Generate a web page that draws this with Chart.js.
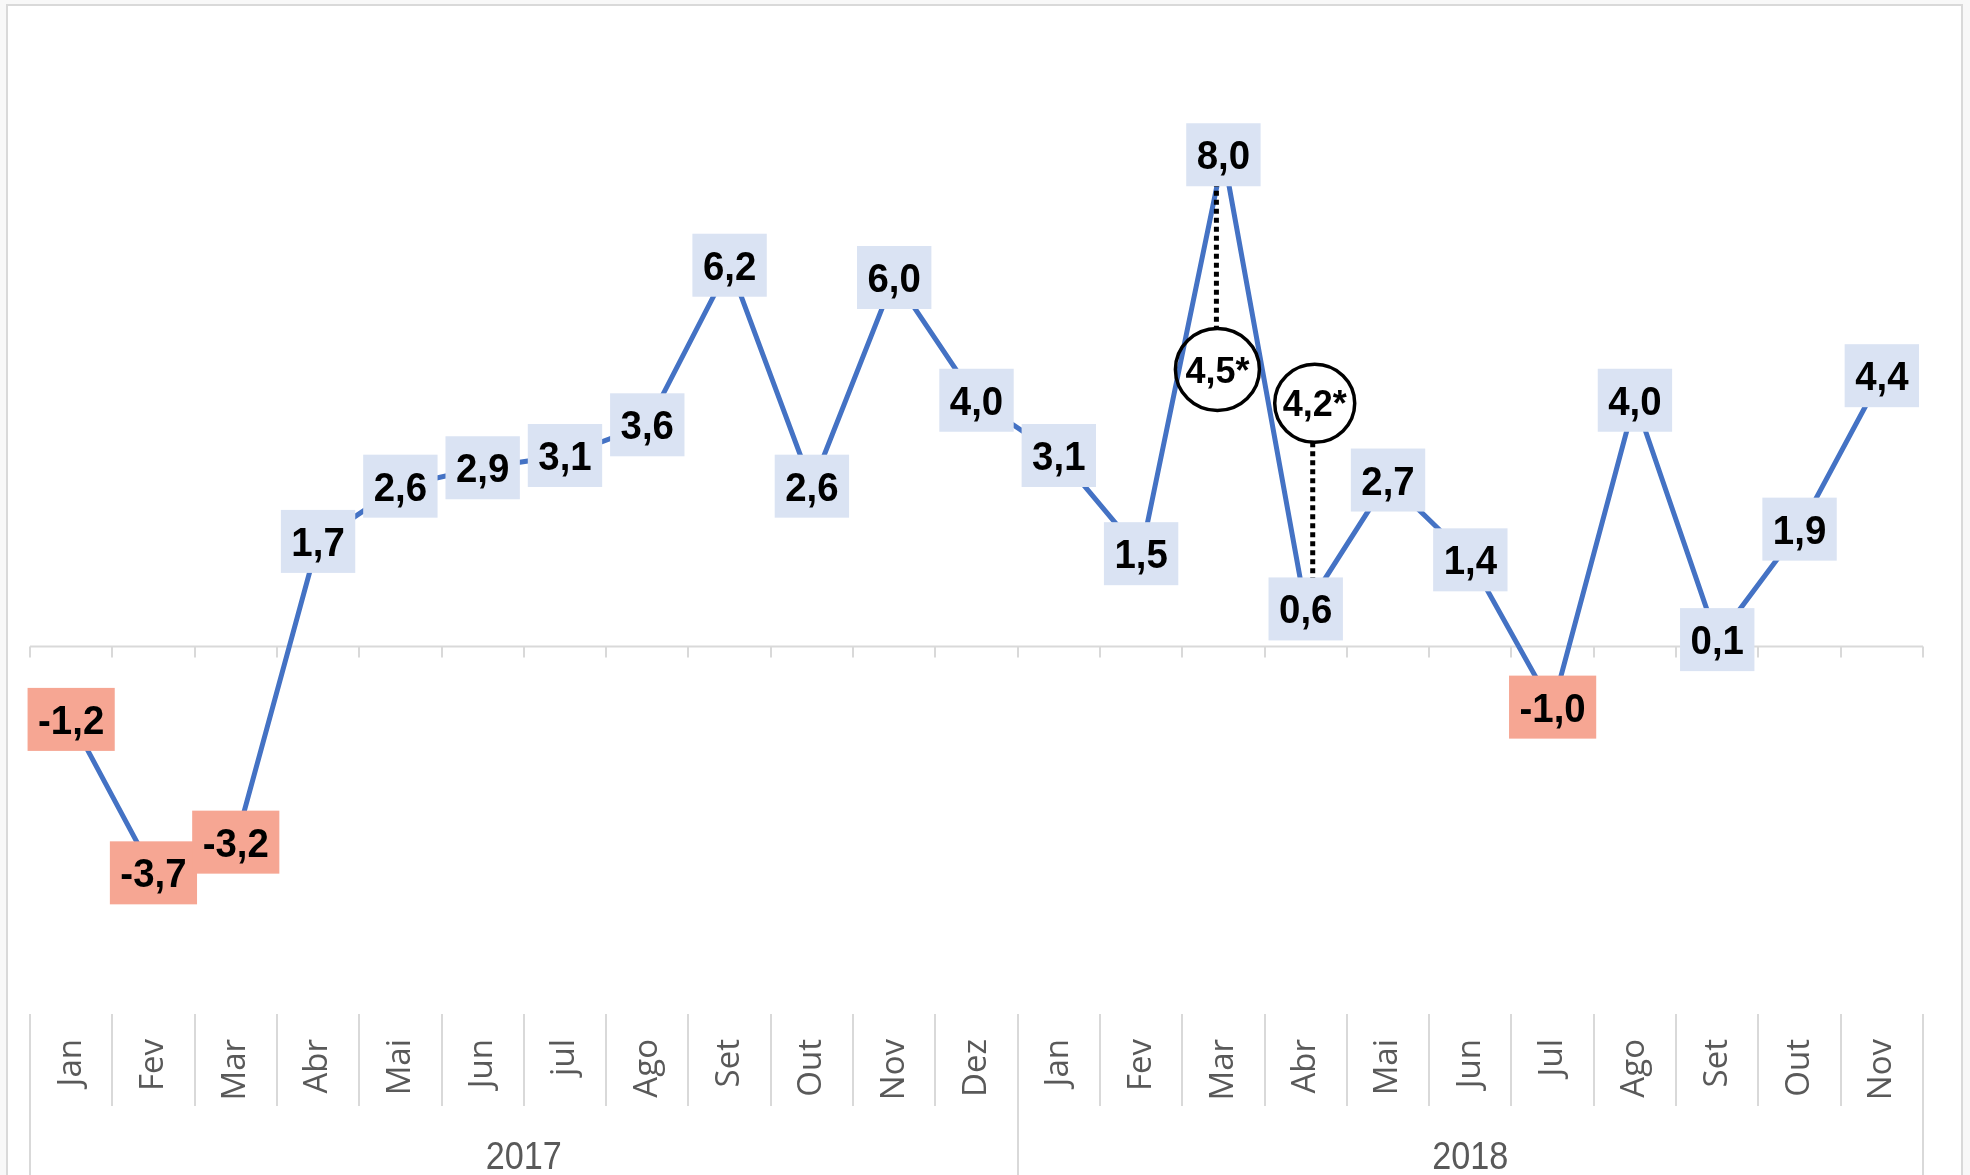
<!DOCTYPE html>
<html>
<head>
<meta charset="utf-8">
<script src="https://cdn.jsdelivr.net/npm/chart.js@4"></script>
<style>
  html, body { margin: 0; padding: 0; background: #f8f8f8; }
  #wrap { width: 1970px; height: 1175px; position: relative; }
</style>
</head>
<body>
<div id="wrap"><canvas id="c"></canvas></div>
<script>
// ---- data ----
const months2017 = ['Jan','Fev','Mar','Abr','Mai','Jun','jul','Ago','Set','Out','Nov','Dez'];
const months2018 = ['Jan','Fev','Mar','Abr','Mai','Jun','Jul','Ago','Set','Out','Nov'];
const years = ['2017', '2018'];
const values2017 = [-1.2, -3.7, -3.2, 1.7, 2.6, 2.9, 3.1, 3.6, 6.2, 2.6, 6.0, 4.0];
const values2018 = [3.1, 1.5, 8.0, 0.6, 2.7, 1.4, -1.0, 4.0, 0.1, 1.9, 4.4];
// annotations (circled values) : category index, text, vertical level of circle centre
const annotIndex = [14, 15];
const annotText = ['4,5*', '4,2*'];
const annotLevel = [4.5, 3.95];

const labels = months2017.concat(months2018);
const values = values2017.concat(values2018);
const yearCounts = [months2017.length, months2018.length];

const fmt = v => v.toFixed(1).replace('.', ',');

const decor = {
  id: 'decor',
  beforeDraw(chart) {
    const { ctx, width, height } = chart;
    const x = chart.scales.x, y = chart.scales.y;
    ctx.save();
    ctx.fillStyle = '#f8f8f8';
    ctx.fillRect(0, 0, width, height);
    ctx.fillStyle = '#ffffff';
    ctx.fillRect(7, 5, 1955, height);
    ctx.strokeStyle = '#d9d9d9';
    ctx.lineWidth = 2;
    ctx.strokeRect(7, 5, 1955, height + 20);
    // zero axis with tick marks
    const y0 = Math.round(y.getPixelForValue(0)) + 0.5;
    const n = labels.length;
    const cw = (x.right - x.left) / n;
    ctx.beginPath();
    ctx.moveTo(x.left, y0);
    ctx.lineTo(x.right, y0);
    for (let i = 0; i <= n; i++) {
      const xb = Math.round(x.left + i * cw);
      ctx.moveTo(xb, y0);
      ctx.lineTo(xb, y0 + 11);
    }
    ctx.stroke();
    ctx.restore();
  },
  afterDatasetsDraw(chart) {
    const { ctx } = chart;
    const x = chart.scales.x, y = chart.scales.y;
    ctx.save();
    // annotations
    annotIndex.forEach((idx, k) => {
      const px = x.getPixelForValue(idx) + (k === 0 ? -7 : 7);
      const cx = x.getPixelForValue(idx) + (k === 0 ? -6 : 9);
      const cy = y.getPixelForValue(annotLevel[k]);
      const py = y.getPixelForValue(values[idx]);
      const r = k === 0 ? 41 : 39;
      ctx.setLineDash([5, 4]);
      ctx.lineWidth = 5;
      ctx.strokeStyle = '#000';
      ctx.beginPath();
      if (py < cy) { ctx.moveTo(px, py); ctx.lineTo(px, cy - r); }
      else { ctx.moveTo(px, cy + r); ctx.lineTo(px, py); }
      ctx.stroke();
      ctx.setLineDash([]);
      ctx.beginPath();
      ctx.ellipse(cx, cy, r + 1, r, 0, 0, Math.PI * 2);
      ctx.lineWidth = 3.5;
      ctx.stroke();
      ctx.fillStyle = '#000';
      ctx.font = 'bold 36px "Liberation Sans", Arial, sans-serif';
      ctx.textAlign = 'center';
      ctx.textBaseline = 'alphabetic';
      ctx.fillText(annotText[k], cx, cy + 13);
    });
    // data labels
    const meta = chart.getDatasetMeta(0);
    meta.data.forEach((pt, i) => {
      const v = values[i];
      const txt = fmt(v);
      ctx.font = 'bold 40px "Liberation Sans", Arial, sans-serif';
      const sx = 0.96;
      const tw = ctx.measureText(txt).width * sx;
      const bw = tw + 21, bh = 63;
      ctx.fillStyle = v < 0 ? '#f6a693' : '#dae3f3';
      ctx.fillRect(pt.x - bw / 2, pt.y - bh / 2, bw, bh);
      ctx.save();
      ctx.translate(pt.x, pt.y + 14.5);
      ctx.scale(sx, 1);
      ctx.fillStyle = '#000';
      ctx.textAlign = 'center';
      ctx.textBaseline = 'alphabetic';
      ctx.fillText(txt, 0, 0);
      ctx.restore();
    });
    ctx.restore();
  },
  afterDraw(chart) {
    const { ctx, height, chartArea } = chart;
    const x = chart.scales.x;
    const n = labels.length;
    const cw = (x.right - x.left) / n;
    ctx.save();
    ctx.strokeStyle = '#d9d9d9';
    ctx.lineWidth = 2;
    const top = chartArea.bottom;
    const yearBounds = [0];
    yearCounts.forEach(c => yearBounds.push(yearBounds[yearBounds.length - 1] + c));
    ctx.beginPath();
    for (let i = 0; i <= n; i++) {
      const xb = Math.round(x.left + i * cw);
      ctx.moveTo(xb, top);
      ctx.lineTo(xb, yearBounds.includes(i) ? height : 1106);
    }
    ctx.stroke();
    ctx.fillStyle = '#595959';
    ctx.font = '38px "Liberation Sans", Arial, sans-serif';
    ctx.textAlign = 'center';
    ctx.textBaseline = 'middle';
    years.forEach((yr, k) => {
      const cx = x.left + (yearBounds[k] + yearBounds[k + 1]) / 2 * cw;
      ctx.save();
      ctx.translate(cx, 1159);
      ctx.scale(0.9, 1);
      ctx.fillText(yr, 0, 0);
      ctx.restore();
    });
    ctx.restore();
  }
};

new Chart(document.getElementById('c'), {
  type: 'line',
  data: {
    labels: labels,
    datasets: [{
      data: values,
      borderColor: '#4472c4',
      borderWidth: 5,
      pointRadius: 0,
      tension: 0,
      fill: false
    }]
  },
  options: {
    responsive: true,
    maintainAspectRatio: false,
    animation: false,
    layout: { padding: { left: 30, right: 47, top: 32, bottom: 0 } },
    plugins: { legend: { display: false }, tooltip: { enabled: false } },
    scales: {
      x: {
        type: 'category',
        offset: true,
        grid: { display: false, drawTicks: false },
        border: { display: false },
        afterFit: s => { s.height = 161; },
        ticks: {
          autoSkip: false,
          minRotation: 90,
          maxRotation: 90,
          padding: 25,
          color: '#595959',
          font: { family: '"Open Sans", sans-serif', size: 33 }
        }
      },
      y: {
        display: false,
        min: -6,
        max: 10
      }
    }
  },
  plugins: [decor]
});
</script>
</body>
</html>
